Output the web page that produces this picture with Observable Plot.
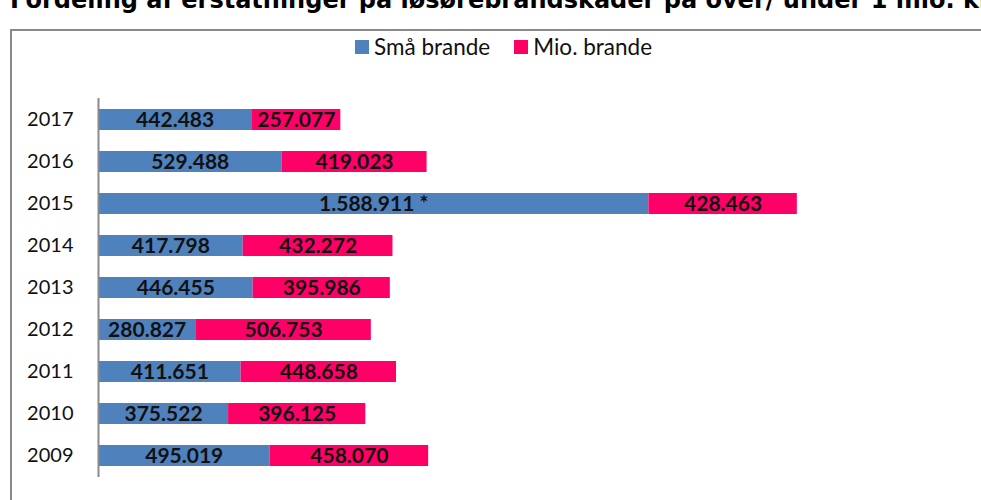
<!DOCTYPE html>
<html>
<head>
<meta charset="utf-8">
<script src="https://cdn.jsdelivr.net/npm/d3@7"></script>
<script src="https://cdn.jsdelivr.net/npm/@observablehq/plot@0.6"></script>
<style>
  html, body { margin: 0; padding: 0; background: #fff; overflow: hidden; width: 981px; height: 500px; }
  #wrap { position: relative; width: 981px; height: 500px; overflow: hidden; font-family: Lato, "Open Sans", sans-serif; }
  #title { position: absolute; left: 10px; top: -12px; font: bold 24px/24px "DejaVu Sans", sans-serif; white-space: nowrap; color: #000; }
  #frame { position: absolute; left: 10px; top: 29px; width: 1100px; height: 600px; border: 2px solid #898989; box-sizing: border-box; background: transparent; }
  #legend { position: absolute; left: 355px; top: 33px; display: flex; gap: 24px; font: 22.5px Lato, sans-serif; color: #111; }
  #legend span.item { display: flex; align-items: center; gap: 5px; }
  #legend span.sw { width: 14px; height: 14px; display: inline-block; }
  #chart { position: absolute; left: 0; top: 60px; }
</style>
</head>
<body>
<div id="wrap">
  <div id="frame"></div>
  <div id="title">Fordeling af erstatninger på løsørebrandskader på over/ under 1 mio. kr.</div>
  <div id="legend"></div>
  <div id="chart"></div>
</div>
<script>
const years = ["2009", "2010", "2011", "2012", "2013", "2014", "2015", "2016", "2017"];
const smallFires = [495019, 375522, 411651, 280827, 446455, 417798, 1588911, 529488, 442483];
const bigFires = [458070, 396125, 448658, 506753, 395986, 432272, 428463, 419023, 257077];
const seriesNames = ["Små brande", "Mio. brande"];
const seriesColors = ["#4F81BD", "#FF0066"];
const footnoteYears = ["2015"];
const xMax = 2500000;

const data = [];
years.forEach((y, i) => {
  data.push({year: y, series: seriesNames[0], value: smallFires[i]});
  data.push({year: y, series: seriesNames[1], value: bigFires[i]});
});

const fmt = d3.formatLocale({decimal: ",", thousands: ".", grouping: [3], currency: ["", " kr"]}).format(",d");
const label = d => fmt(d.value) + (d.series === seriesNames[0] && footnoteYears.includes(d.year) ? " *" : "");

// legend
const leg = document.getElementById("legend");
seriesNames.forEach((s, i) => {
  const it = document.createElement("span");
  it.className = "item";
  it.innerHTML = `<span class="sw" style="background:${seriesColors[i]}"></span>${s}`;
  leg.appendChild(it);
});

const chart = Plot.plot({
  width: 981,
  height: 440,
  marginTop: 38,
  marginBottom: 23,
  marginLeft: 98,
  marginRight: 17,
  style: {fontFamily: "Lato, sans-serif", background: "transparent"},
  x: {domain: [0, xMax], axis: null},
  y: {domain: years.slice().reverse(), paddingInner: 0.5, paddingOuter: 0.25, label: null},
  color: {domain: seriesNames, range: seriesColors},
  marks: [
    Plot.barX(data, Plot.stackX({x: "value", y: "year", fill: "series", order: null})),
    Plot.text(data, Plot.stackX({x: "value", y: "year", z: "series", order: null, text: label,
      fontWeight: "bold", fontSize: 21, fill: "#111"})),
    Plot.axisY({tickSize: 0, tickPadding: 25, fontSize: 20, color: "#111"}),
    Plot.ruleX([0], {stroke: "#8a8a8a", strokeWidth: 2})
  ]
});
document.getElementById("chart").appendChild(chart);
</script>
</body>
</html>
